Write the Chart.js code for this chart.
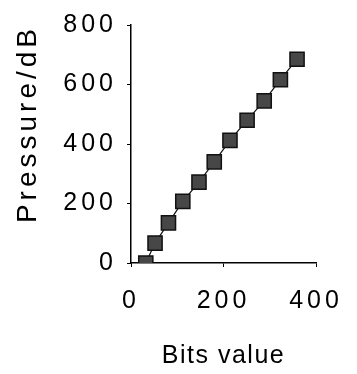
<!DOCTYPE html>
<html>
<head>
<meta charset="utf-8">
<script src="https://cdn.jsdelivr.net/npm/chart.js@4/dist/chart.umd.min.js"></script>
<style>
  html, body { margin: 0; padding: 0; background: #fff; }
  #wrap { width: 357px; height: 374px; }
</style>
</head>
<body>
<div id="wrap"><canvas id="chart"></canvas></div>
<script>
// valores
const bits = [32, 52, 81, 112, 147, 180, 214, 251, 288, 323, 359];
const pressure = [0, 67, 135, 207, 272, 340, 412, 480, 545, 616, 685];
const xTicks = [0, 200, 400];
const yTicks = [0, 200, 400, 600, 800];

const FONT = "'Liberation Sans', Arial, sans-serif";
const INK = '#000';

// espaçamento entre letras (o original tem texto bem espaçado)
const spacing = {
    id: 'spacing',
    beforeDraw(chart) {
        Object.values(chart.scales).forEach(s => {
            if (s._spaced) return;
            s._spaced = true;
            const drawLabels = s.drawLabels;
            const drawTitle = s.drawTitle;
            const tickGap = '4px';
            const titleGap = s.axis === 'y' ? '4px' : '1.5px';
            s.drawLabels = function (area) {
                this.ctx.letterSpacing = tickGap;
                drawLabels.call(this, area);
                this.ctx.letterSpacing = '0px';
            };
            s.drawTitle = function (area) {
                this.ctx.letterSpacing = titleGap;
                drawTitle.call(this, area);
                this.ctx.letterSpacing = '0px';
            };
        });
    }
};

const ctx = document.getElementById('chart');
const chart = new Chart(ctx, {
    type: 'scatter',
    data: {
        datasets: [{
            label: 'Pressure',
            data: bits.map((b, i) => ({ x: b, y: pressure[i] })),
            showLine: true,
            borderColor: '#111',
            borderWidth: 1.2,
            pointStyle: 'rect',
            pointRadius: 10,
            pointBorderWidth: 1.5,
            pointBorderColor: '#111',
            pointBackgroundColor: '#474747'
        }]
    },
    options: {
        responsive: true,
        maintainAspectRatio: false,
        animation: false,
        layout: { padding: { left: 0, right: 41, top: 19, bottom: 0 } },
        plugins: {
            legend: { display: false },
            tooltip: { enabled: false }
        },
        scales: {
            x: {
                type: 'linear',
                min: 0,
                max: 400,
                afterBuildTicks: scale => { scale.ticks = xTicks.map(v => ({ value: v })); },
                afterFit: scale => { scale.height = 111; },
                border: { display: true, color: INK, width: 1.5 },
                grid: { drawOnChartArea: false, tickLength: 4, color: INK },
                ticks: {
                    color: INK,
                    font: { family: FONT, size: 25 },
                    padding: 19,
                    maxRotation: 0
                },
                title: {
                    display: true,
                    text: 'Bits value',
                    color: INK,
                    font: { family: FONT, size: 25 },
                    padding: { top: 0, bottom: 3 }
                }
            },
            y: {
                type: 'linear',
                min: 0,
                max: 800,
                afterBuildTicks: scale => { scale.ticks = yTicks.map(v => ({ value: v })); },
                afterFit: scale => { scale.width = 131; },
                border: { display: true, color: INK, width: 1.5 },
                grid: { drawOnChartArea: false, tickLength: 4, color: INK },
                ticks: {
                    color: INK,
                    font: { family: FONT, size: 25 },
                    padding: 10
                },
                title: {
                    display: true,
                    text: 'Pressure/dB',
                    align: 'end',
                    color: INK,
                    font: { family: FONT, size: 28 },
                    padding: { top: 11, bottom: 0 }
                }
            }
        }
    },
    plugins: [spacing]
});
</script>
</body>
</html>
